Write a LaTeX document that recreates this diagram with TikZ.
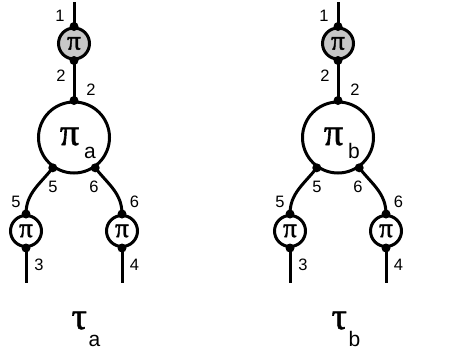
\documentclass[tikz,border=0pt]{standalone}
\usepackage{fontspec}
\setmainfont{Liberation Sans}
\newfontfamily\greekfont[FakeBold=1.6]{Liberation Serif}
\begin{document}
\begin{tikzpicture}[x=1pt,y=-1pt,line width=3pt,
  lbl/.style={font=\fontsize{16.5}{16.5}\selectfont, inner sep=0},
  bigc/.style={circle, draw, minimum size=71pt, inner sep=0},
  smc/.style={circle, draw, minimum size=31pt, inner sep=0, font=\greekfont\fontsize{27}{27}\selectfont},
  gsm/.style={smc, fill=black!22},
  dotn/.style={circle, fill, draw=none, inner sep=0, minimum size=9pt},
  bigsym/.style={anchor=base west, inner sep=0, font=\greekfont\fontsize{38}{38}\selectfont},
  subsym/.style={anchor=base west, inner sep=0, font=\fontsize{21}{21}\selectfont}]
\useasboundingbox (0,0) rectangle (462,351);
\foreach \dx/\p/\tx in {0/a/70.2, 264/b/330.2}{
\begin{scope}[xshift=\dx pt, name prefix=\p-]
  \node[gsm] (s0) at (74,43.5) {π};
  \node[bigc] (B) at (74,137.5) {};
  \node[smc] (L) at (26,231) {π};
  \node[smc] (R) at (122,231) {π};
  \coordinate (top) at (74,2);
  \coordinate (Lend) at (26,283);
  \coordinate (Rend) at (122,283);
  \node[dotn] (d1) at (s0.north) {};
  \node[dotn] (d2) at (s0.south) {};
  \node[dotn] (d3) at (B.north) {};
  \node[dotn] (d5) at (B.-125) {};
  \node[dotn] (d6) at (B.-55) {};
  \node[dotn] (l1) at (L.north) {};
  \node[dotn] (l2) at (L.south) {};
  \node[dotn] (r1) at (R.north) {};
  \node[dotn] (r2) at (R.south) {};
  \draw (top) -- (d1.center);
  \draw (d2.center) -- (d3.center);
  \draw (d5.center) to[out=-128,in=90] (l1.center);
  \draw (d6.center) to[out=-52,in=90] (r1.center);
  \draw (l2.center) -- (Lend);
  \draw (r2.center) -- (Rend);
  \node[lbl] (n1) at (60,16) {1};
  \node[lbl] (n2a) at (61,76) {2};
  \node[lbl] (n2b) at (91,90) {2};
  \node[lbl] (n5a) at (53,187) {5};
  \node[lbl] (n6a) at (94,187) {6};
  \node[lbl] (n5b) at (16,202) {5};
  \node[lbl] (n6b) at (134.5,202) {6};
  \node[lbl] (n3) at (39,265) {3};
  \node[lbl] (n4) at (134.5,265) {4};
  \node[bigsym] (pi) at (58.5,145) {π};
  \node[subsym] (pisub) at (82.5,158) {\p};
\end{scope}
\node[bigsym] (tau-\p) at (\tx,329) {τ};
\node[subsym] (tausub-\p) at (\tx+17,346.5) {\p};
}
\end{tikzpicture}
\end{document}
